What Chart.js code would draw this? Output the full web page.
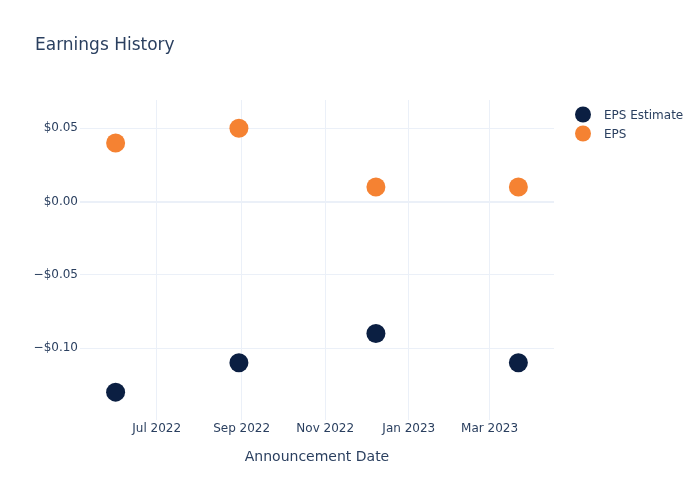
<!DOCTYPE html>
<html>
<head>
<meta charset="utf-8">
<script src="https://cdn.jsdelivr.net/npm/chart.js@4/dist/chart.umd.min.js"></script>
<style>
    html, body { margin: 0; padding: 0; background: #fff; }
    #wrap { width: 700px; height: 500px; }
</style>
</head>
<body>
<div id="wrap"><canvas id="earningsChart" width="700" height="500"></canvas></div>
<script>
// Chart data
const announceDates = ['2022-06-01', '2022-08-30', '2022-12-08', '2023-03-22'];
const epsEstimate = [-0.13, -0.11, -0.09, -0.11];
const epsActual = [0.04, 0.05, 0.01, 0.01];
const seriesNames = ['EPS Estimate', 'EPS'];
const seriesColors = ['#0b1f42', '#f58232'];
const xTickDates = ['2022-07-01', '2022-09-01', '2022-11-01', '2023-01-01', '2023-03-01'];
const xTickLabels = ['Jul 2022', 'Sep 2022', 'Nov 2022', 'Jan 2023', 'Mar 2023'];
const yTicks = [-0.10, -0.05, 0, 0.05];
const xRange = ['2022-05-06', '2023-04-17'];
const yRange = [-0.149, 0.0693];

const FONT = '"DejaVu Sans", Verdana, sans-serif';
const TEXT = '#2a3f5f';
const GRID = '#ebf0f8';

// Format a value as a dollar amount with a real minus sign
function formatDollar(v) {
    const s = '$' + Math.abs(v).toFixed(2);
    return v < -1e-9 ? '\u2212' + s : s;
}

function toPoints(values) {
    return values.map((v, i) => ({ x: Date.parse(announceDates[i]), y: v }));
}

// Title and legend, drawn where the reference has them
const decorations = {
    id: 'decorations',
    afterDraw(chart) {
        const ctx = chart.ctx;
        ctx.save();
        ctx.fillStyle = TEXT;
        ctx.font = '17px ' + FONT;
        ctx.textBaseline = 'middle';
        ctx.textAlign = 'left';
        ctx.fillText('Earnings History', 35, 45.5);

        ctx.font = '12px ' + FONT;
        chart.data.datasets.forEach((ds, i) => {
            const y = 114.5 + i * 19;
            ctx.beginPath();
            ctx.arc(583, y, 8, 0, Math.PI * 2);
            ctx.fillStyle = ds.backgroundColor;
            ctx.fill();
            ctx.fillStyle = TEXT;
            ctx.fillText(ds.label, 604, y + 1);
        });
        ctx.restore();
    }
};

const ctx = document.getElementById('earningsChart').getContext('2d');
new Chart(ctx, {
    type: 'scatter',
    data: {
        datasets: [
            {
                label: seriesNames[0],
                data: toPoints(epsEstimate),
                backgroundColor: seriesColors[0],
                borderColor: seriesColors[0],
                borderWidth: 0,
                pointRadius: 9.5,
                pointHoverRadius: 9.5
            },
            {
                label: seriesNames[1],
                data: toPoints(epsActual),
                backgroundColor: seriesColors[1],
                borderColor: seriesColors[1],
                borderWidth: 0,
                pointRadius: 9.5,
                pointHoverRadius: 9.5
            }
        ]
    },
    options: {
        responsive: false,
        animation: false,
        layout: { padding: { top: 100, right: 146, left: 0, bottom: 0 } },
        plugins: {
            legend: { display: false },
            title: { display: false },
            tooltip: { enabled: false }
        },
        scales: {
            x: {
                type: 'linear',
                min: Date.parse(xRange[0]),
                max: Date.parse(xRange[1]),
                afterFit: scale => { scale.height = 80; },
                afterBuildTicks: scale => {
                    scale.ticks = xTickDates.map(d => ({ value: Date.parse(d) }));
                },
                ticks: {
                    padding: 2,
                    maxRotation: 0,
                    color: TEXT,
                    font: { family: FONT, size: 12 },
                    callback: (value) => {
                        const idx = xTickDates.findIndex(d => Date.parse(d) === value);
                        return idx >= 0 ? xTickLabels[idx] : '';
                    }
                },
                grid: { color: GRID, lineWidth: 1, drawTicks: false },
                border: { display: false },
                title: {
                    display: true,
                    text: 'Announcement Date',
                    color: TEXT,
                    font: { family: FONT, size: 14 },
                    padding: { top: 0, bottom: 34 }
                }
            },
            y: {
                min: yRange[0],
                max: yRange[1],
                afterFit: scale => { scale.width = 80; },
                afterBuildTicks: scale => {
                    scale.ticks = yTicks.map(v => ({ value: v }));
                },
                ticks: {
                    padding: 2,
                    color: TEXT,
                    font: { family: FONT, size: 12 },
                    callback: v => formatDollar(v)
                },
                grid: {
                    color: GRID,
                    drawTicks: false,
                    lineWidth: c => (Math.abs(c.tick.value) < 1e-9 ? 2 : 1)
                },
                border: { display: false }
            }
        }
    },
    plugins: [decorations]
});
</script>
</body>
</html>
